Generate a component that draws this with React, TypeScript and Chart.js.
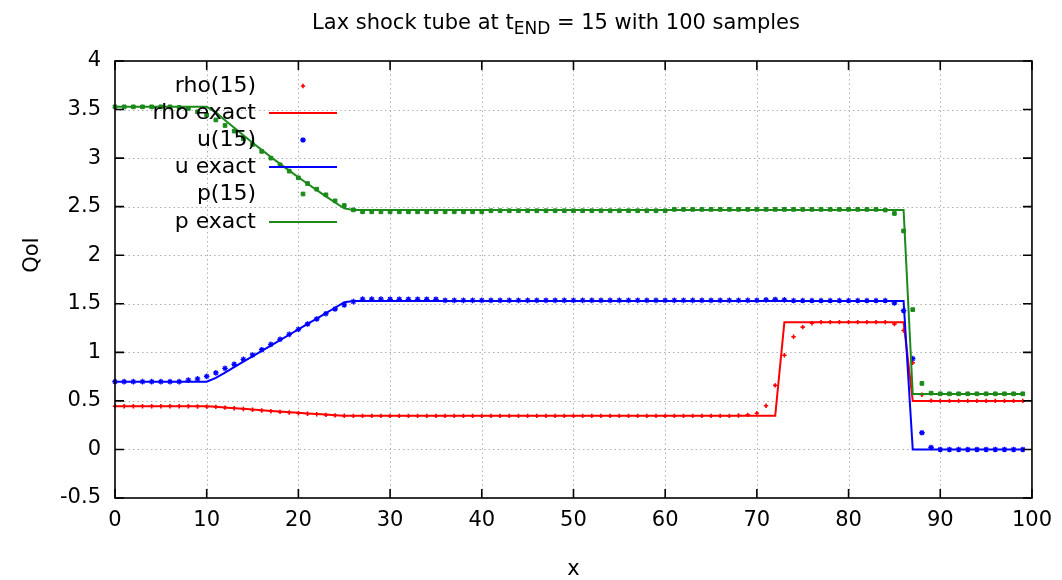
import React, { useEffect, useRef } from "react";
import { Chart, registerables } from "chart.js";

Chart.register(...registerables);

const FONT = "'DejaVu Sans', Verdana, sans-serif";
const RED = "#ff0000";
const BLUE = "#0000ff";
const GREEN = "#1b8a1b";

// sample positions (cell index 0..99)
const sampleX: number[] = Array.from({ length: 100 }, (_, i) => i);

const xTicks = [0, 10, 20, 30, 40, 50, 60, 70, 80, 90, 100];
const yTicks = [-0.5, 0, 0.5, 1, 1.5, 2, 2.5, 3, 3.5, 4];

// numerical solution at t = 15
const rho15 = [
  0.445, 0.445, 0.445, 0.445, 0.445, 0.445, 0.445, 0.445, 0.445, 0.442,
  0.441, 0.438, 0.431, 0.424, 0.417, 0.408, 0.401, 0.394, 0.387, 0.380,
  0.373, 0.367, 0.362, 0.356, 0.351, 0.347, 0.346, 0.346, 0.346, 0.346,
  0.346, 0.346, 0.346, 0.346, 0.346, 0.346, 0.346, 0.346, 0.346, 0.346,
  0.346, 0.346, 0.346, 0.346, 0.346, 0.346, 0.346, 0.346, 0.346, 0.346,
  0.346, 0.346, 0.346, 0.346, 0.346, 0.346, 0.346, 0.346, 0.346, 0.346,
  0.346, 0.346, 0.346, 0.346, 0.346, 0.346, 0.346, 0.346, 0.349, 0.356,
  0.373, 0.450, 0.660, 0.970, 1.160, 1.260, 1.300, 1.311, 1.311, 1.311,
  1.311, 1.311, 1.311, 1.311, 1.311, 1.290, 1.225, 0.893, 0.563, 0.503,
  0.500, 0.500, 0.500, 0.500, 0.500, 0.500, 0.500, 0.500, 0.500, 0.500,
];

const u15 = [
  0.698, 0.698, 0.698, 0.698, 0.698, 0.698, 0.698, 0.698, 0.714, 0.727,
  0.752, 0.788, 0.835, 0.877, 0.928, 0.973, 1.027, 1.082, 1.134, 1.185,
  1.237, 1.292, 1.343, 1.398, 1.446, 1.488, 1.522, 1.548, 1.548, 1.548,
  1.546, 1.546, 1.546, 1.546, 1.546, 1.546, 1.535, 1.535, 1.535, 1.535,
  1.535, 1.535, 1.535, 1.535, 1.535, 1.535, 1.535, 1.535, 1.535, 1.535,
  1.535, 1.535, 1.535, 1.535, 1.535, 1.535, 1.535, 1.535, 1.535, 1.535,
  1.535, 1.535, 1.535, 1.535, 1.535, 1.535, 1.535, 1.535, 1.535, 1.535,
  1.535, 1.540, 1.544, 1.540, 1.533, 1.533, 1.533, 1.533, 1.533, 1.533,
  1.533, 1.533, 1.533, 1.533, 1.533, 1.508, 1.430, 0.935, 0.172, 0.020,
  0.000, 0.000, 0.000, 0.000, 0.000, 0.000, 0.000, 0.000, 0.000, 0.000,
];

const p15 = [
  3.528, 3.528, 3.528, 3.528, 3.528, 3.528, 3.528, 3.522, 3.512, 3.477,
  3.443, 3.393, 3.336, 3.278, 3.199, 3.141, 3.069, 3.000, 2.931, 2.866,
  2.797, 2.738, 2.680, 2.622, 2.560, 2.512, 2.467, 2.447, 2.447, 2.447,
  2.447, 2.447, 2.447, 2.447, 2.447, 2.447, 2.447, 2.447, 2.447, 2.447,
  2.447, 2.458, 2.458, 2.458, 2.458, 2.458, 2.458, 2.458, 2.458, 2.458,
  2.458, 2.458, 2.458, 2.458, 2.458, 2.458, 2.458, 2.458, 2.458, 2.458,
  2.458, 2.472, 2.472, 2.472, 2.472, 2.472, 2.472, 2.472, 2.472, 2.472,
  2.472, 2.472, 2.472, 2.472, 2.472, 2.472, 2.472, 2.472, 2.472, 2.472,
  2.472, 2.472, 2.472, 2.472, 2.465, 2.430, 2.250, 1.440, 0.680, 0.580,
  0.573, 0.573, 0.573, 0.573, 0.573, 0.573, 0.573, 0.573, 0.573, 0.573,
];

// exact solution
const rhoExact = [
  0.445, 0.445, 0.445, 0.445, 0.445, 0.445, 0.445, 0.445, 0.445, 0.445,
  0.445, 0.440, 0.433, 0.425, 0.418, 0.411, 0.404, 0.397, 0.391, 0.384,
  0.378, 0.371, 0.365, 0.359, 0.352, 0.347, 0.346, 0.346, 0.346, 0.346,
  0.346, 0.346, 0.346, 0.346, 0.346, 0.346, 0.346, 0.346, 0.346, 0.346,
  0.346, 0.346, 0.346, 0.346, 0.346, 0.346, 0.346, 0.346, 0.346, 0.346,
  0.346, 0.346, 0.346, 0.346, 0.346, 0.346, 0.346, 0.346, 0.346, 0.346,
  0.346, 0.346, 0.346, 0.346, 0.346, 0.346, 0.346, 0.346, 0.346, 0.346,
  0.346, 0.346, 0.346, 1.311, 1.311, 1.311, 1.311, 1.311, 1.311, 1.311,
  1.311, 1.311, 1.311, 1.311, 1.311, 1.311, 1.311, 0.500, 0.500, 0.500,
  0.500, 0.500, 0.500, 0.500, 0.500, 0.500, 0.500, 0.500, 0.500, 0.500,
];

const uExact = [
  0.698, 0.698, 0.698, 0.698, 0.698, 0.698, 0.698, 0.698, 0.698, 0.698,
  0.698, 0.737, 0.792, 0.848, 0.904, 0.959, 1.015, 1.070, 1.126, 1.181,
  1.237, 1.292, 1.348, 1.404, 1.459, 1.515, 1.529, 1.529, 1.529, 1.529,
  1.529, 1.529, 1.529, 1.529, 1.529, 1.529, 1.529, 1.529, 1.529, 1.529,
  1.529, 1.529, 1.529, 1.529, 1.529, 1.529, 1.529, 1.529, 1.529, 1.529,
  1.529, 1.529, 1.529, 1.529, 1.529, 1.529, 1.529, 1.529, 1.529, 1.529,
  1.529, 1.529, 1.529, 1.529, 1.529, 1.529, 1.529, 1.529, 1.529, 1.529,
  1.529, 1.529, 1.529, 1.529, 1.529, 1.529, 1.529, 1.529, 1.529, 1.529,
  1.529, 1.529, 1.529, 1.529, 1.529, 1.529, 1.529, 0.000, 0.000, 0.000,
  0.000, 0.000, 0.000, 0.000, 0.000, 0.000, 0.000, 0.000, 0.000, 0.000,
];

const pExact = [
  3.528, 3.528, 3.528, 3.528, 3.528, 3.528, 3.528, 3.528, 3.528, 3.528,
  3.528, 3.471, 3.391, 3.312, 3.235, 3.159, 3.085, 3.012, 2.941, 2.871,
  2.803, 2.736, 2.671, 2.606, 2.543, 2.482, 2.466, 2.466, 2.466, 2.466,
  2.466, 2.466, 2.466, 2.466, 2.466, 2.466, 2.466, 2.466, 2.466, 2.466,
  2.466, 2.466, 2.466, 2.466, 2.466, 2.466, 2.466, 2.466, 2.466, 2.466,
  2.466, 2.466, 2.466, 2.466, 2.466, 2.466, 2.466, 2.466, 2.466, 2.466,
  2.466, 2.466, 2.466, 2.466, 2.466, 2.466, 2.466, 2.466, 2.466, 2.466,
  2.466, 2.466, 2.466, 2.466, 2.466, 2.466, 2.466, 2.466, 2.466, 2.466,
  2.466, 2.466, 2.466, 2.466, 2.466, 2.466, 2.466, 0.571, 0.571, 0.571,
  0.571, 0.571, 0.571, 0.571, 0.571, 0.571, 0.571, 0.571, 0.571, 0.571,
];

const toXY = (vals: number[]) => vals.map((v, i) => ({ x: sampleX[i], y: v }));

const decorPlugin = {
  id: "decor",
  beforeDatasetsDraw(chart: any) {
    const { ctx, chartArea: a, scales } = chart;
    const xs = scales.x, ys = scales.y;
    ctx.save();
    ctx.strokeStyle = "#b0b0b0";
    ctx.lineWidth = 1;
    ctx.setLineDash([1.5, 3]);
    xTicks.forEach((t) => {
      const px = Math.round(xs.getPixelForValue(t)) + 0.5;
      if (px <= a.left + 2 || px >= a.right - 2) return;
      ctx.beginPath();
      ctx.moveTo(px, a.top);
      ctx.lineTo(px, a.bottom);
      ctx.stroke();
    });
    yTicks.forEach((t) => {
      const py = Math.round(ys.getPixelForValue(t)) + 0.5;
      if (py <= a.top + 2 || py >= a.bottom - 2) return;
      ctx.beginPath();
      ctx.moveTo(a.left, py);
      ctx.lineTo(a.right, py);
      ctx.stroke();
    });
    ctx.restore();
  },
  afterDatasetsDraw(chart: any) {
    const { ctx, chartArea: a, scales } = chart;
    const xs = scales.x, ys = scales.y;
    ctx.save();
    ctx.strokeStyle = "#000";
    ctx.lineWidth = 1.6;
    ctx.setLineDash([]);
    ctx.strokeRect(a.left, a.top, a.right - a.left, a.bottom - a.top);
    const tl = 9;
    ctx.beginPath();
    xTicks.forEach((t) => {
      const px = xs.getPixelForValue(t);
      ctx.moveTo(px, a.bottom);
      ctx.lineTo(px, a.bottom - tl);
      ctx.moveTo(px, a.top);
      ctx.lineTo(px, a.top + tl);
    });
    yTicks.forEach((t) => {
      const py = ys.getPixelForValue(t);
      ctx.moveTo(a.left, py);
      ctx.lineTo(a.left + tl, py);
      ctx.moveTo(a.right, py);
      ctx.lineTo(a.right - tl, py);
    });
    ctx.stroke();
    ctx.restore();
  },
  afterDraw(chart: any) {
    const { ctx, chartArea: a } = chart;
    ctx.save();
    ctx.fillStyle = "#000";
    // title with subscript
    const mainFont = `21px ${FONT}`;
    const subFont = `17px ${FONT}`;
    const keyFont = `22px ${FONT}`;
    const partA = "Lax shock tube at t";
    const sub = "END";
    const partB = " = 15 with 100 samples";
    ctx.font = mainFont;
    const wA = ctx.measureText(partA).width;
    const wB = ctx.measureText(partB).width;
    ctx.font = subFont;
    const wS = ctx.measureText(sub).width;
    const total = wA + wS + wB;
    const sx = 556 - total / 2;
    ctx.textBaseline = "alphabetic";
    ctx.textAlign = "left";
    ctx.font = mainFont;
    ctx.fillText(partA, sx, 29);
    ctx.font = subFont;
    ctx.fillText(sub, sx + wA, 33.5);
    ctx.font = mainFont;
    ctx.fillText(partB, sx + wA + wS, 29);

    // axis titles
    ctx.textAlign = "center";
    ctx.fillText("x", (a.left + a.right) / 2, 575);
    ctx.save();
    ctx.translate(38, 255);
    ctx.rotate(-Math.PI / 2);
    ctx.fillText("QoI", 0, 0);
    ctx.restore();

    // key (legend)
    const rows = [86, 113, 140, 167, 194, 222];
    const textRight = 256;
    const sampleL = 269, sampleR = 337, sampleC = 303;
    chart.data.datasets.forEach((ds: any, i: number) => {
      const y = rows[i];
      ctx.font = keyFont;
      ctx.textAlign = "right";
      ctx.textBaseline = "middle";
      ctx.fillStyle = "#000";
      ctx.fillText(ds.label, textRight, y);
      if (ds.showLine === false) {
        ctx.save();
        ctx.strokeStyle = ds.borderColor;
        ctx.fillStyle = ds.backgroundColor;
        ctx.lineWidth = ds.pointBorderWidth;
        const st = ds.pointStyle;
        const r = ds.pointRadius;
        ctx.beginPath();
        if (st === "rect") {
          const s = r * Math.SQRT1_2;
          ctx.rect(sampleC - s, y - s, 2 * s, 2 * s);
          ctx.fill();
          ctx.stroke();
        } else if (st === "star") {
          const d = r * Math.SQRT1_2;
          ctx.moveTo(sampleC - r, y); ctx.lineTo(sampleC + r, y);
          ctx.moveTo(sampleC, y - r); ctx.lineTo(sampleC, y + r);
          ctx.moveTo(sampleC - d, y - d); ctx.lineTo(sampleC + d, y + d);
          ctx.moveTo(sampleC - d, y + d); ctx.lineTo(sampleC + d, y - d);
          ctx.stroke();
        } else {
          ctx.moveTo(sampleC - r, y); ctx.lineTo(sampleC + r, y);
          ctx.moveTo(sampleC, y - r); ctx.lineTo(sampleC, y + r);
          ctx.stroke();
        }
        ctx.restore();
      } else {
        ctx.save();
        ctx.strokeStyle = ds.borderColor;
        ctx.lineWidth = ds.borderWidth;
        ctx.beginPath();
        ctx.moveTo(sampleL, y);
        ctx.lineTo(sampleR, y);
        ctx.stroke();
        ctx.restore();
      }
    });
    ctx.restore();
  },
};

function pointSet(label: string, vals: number[], color: string, style: string, radius: number, bw: number, order: number) {
  return {
    label,
    data: toXY(vals),
    showLine: false,
    borderColor: color,
    backgroundColor: color,
    pointStyle: style,
    pointRadius: radius,
    pointBorderWidth: bw,
    pointBackgroundColor: color,
    pointBorderColor: color,
    pointHoverRadius: radius,
    clip: false,
    order,
  };
}

function lineSet(label: string, vals: number[], color: string, order: number) {
  return {
    label,
    data: toXY(vals),
    showLine: true,
    borderColor: color,
    backgroundColor: color,
    borderWidth: 2,
    pointRadius: 0,
    pointHoverRadius: 0,
    tension: 0,
    fill: false,
    clip: false,
    order,
  };
}

export default function App() {
  const ref = useRef<HTMLCanvasElement | null>(null);
  useEffect(() => {
    document.body.style.margin = "0";
    const canvas = ref.current;
    if (!canvas) return;
    Chart.defaults.font.family = FONT;
    const chart = new Chart(canvas, {
      type: "line",
      data: {
        datasets: [
          pointSet("rho(15)", rho15, RED, "cross", 2.2, 1.6, 6),
          lineSet("rho exact", rhoExact, RED, 5),
          pointSet("u(15)", u15, BLUE, "star", 2.8, 1.3, 4),
          lineSet("u exact", uExact, BLUE, 3),
          pointSet("p(15)", p15, GREEN, "rect", 2.6, 1, 2),
          lineSet("p exact", pExact, GREEN, 1),
        ] as any,
      },
      options: {
        responsive: false,
        animation: false,
        devicePixelRatio: 1,
        layout: { padding: { top: 61, right: 30, left: 0, bottom: 0 } },
        plugins: {
          legend: { display: false },
          title: { display: false },
          tooltip: { enabled: false },
        },
        events: [],
        scales: {
          x: {
            type: "linear",
            min: 0,
            max: 100,
            afterFit: (s: any) => {
              s.height = 82;
            },
            afterBuildTicks: (s: any) => {
              s.ticks = xTicks.map((v) => ({ value: v }));
            },
            grid: { display: false, drawTicks: false },
            border: { display: false },
            ticks: {
              color: "#000",
              font: { size: 21, family: FONT },
              padding: 10,
              maxRotation: 0,
              autoSkip: false,
              callback: (v: any) => String(v),
            },
          },
          y: {
            type: "linear",
            min: -0.5,
            max: 4,
            afterFit: (s: any) => {
              s.width = 115;
            },
            afterBuildTicks: (s: any) => {
              s.ticks = yTicks.map((v) => ({ value: v }));
            },
            grid: { display: false, drawTicks: false },
            border: { display: false },
            ticks: {
              color: "#000",
              font: { size: 21, family: FONT },
              padding: 14,
              autoSkip: false,
              callback: (v: any) => String(v),
            },
          },
        },
      },
      plugins: [decorPlugin],
    } as any);
    return () => chart.destroy();
  }, []);
  return <canvas ref={ref} width={1062} height={580} style={{ display: "block" }} />;
}
